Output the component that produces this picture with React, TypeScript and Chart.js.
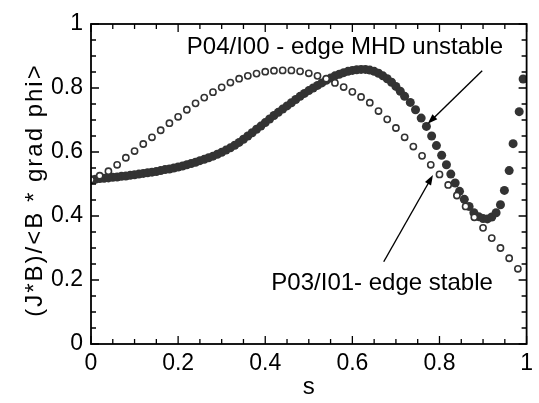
import React, { useEffect, useRef } from "react";
import { Chart, registerables } from "chart.js";

Chart.register(...registerables);

// ---------- data ----------
const xTickLabels = ["0", "0.2", "0.4", "0.6", "0.8", "1"];
const yTickLabels = ["0", "0.2", "0.4", "0.6", "0.8", "1"];
const xTitle = "s";
const yTitle = "(J*B)/<B * grad phi>";
const labelUnstable = "P04/I00 - edge MHD unstable";
const labelStable = "P03/I01- edge stable";

// P03/I01 - edge stable (open circles)
const openS = [
  0.0, 0.02, 0.04, 0.06, 0.08, 0.1, 0.12, 0.14, 0.16, 0.18,
  0.2, 0.22, 0.24, 0.26, 0.28, 0.3, 0.32, 0.34, 0.36, 0.38,
  0.4, 0.42, 0.44, 0.46, 0.48, 0.5, 0.52, 0.54, 0.56, 0.58,
  0.6, 0.62, 0.64, 0.66, 0.68, 0.7, 0.72, 0.74, 0.76, 0.78,
  0.8, 0.82, 0.84, 0.86, 0.88, 0.9, 0.92, 0.94, 0.96, 0.98,
];
const openJB = [
  0.513, 0.526, 0.54, 0.56, 0.582, 0.603, 0.625, 0.646, 0.668, 0.69,
  0.71, 0.732, 0.752, 0.77, 0.787, 0.802, 0.817, 0.829, 0.838, 0.845,
  0.851, 0.854, 0.855, 0.855, 0.852, 0.846, 0.838, 0.829, 0.816, 0.803,
  0.788, 0.772, 0.754, 0.728, 0.702, 0.675, 0.646, 0.617, 0.588, 0.56,
  0.53, 0.497, 0.464, 0.43, 0.396, 0.363, 0.331, 0.3, 0.268, 0.235,
];

// P04/I00 - edge MHD unstable (filled circles)
const filledS = [
  0.0, 0.01, 0.02, 0.03, 0.04, 0.05, 0.06, 0.07, 0.08, 0.09,
  0.1, 0.11, 0.12, 0.13, 0.14, 0.15, 0.16, 0.17, 0.18, 0.19,
  0.2, 0.21, 0.22, 0.23, 0.24, 0.25, 0.26, 0.27, 0.28, 0.29,
  0.3, 0.31, 0.32, 0.33, 0.34, 0.35, 0.36, 0.37, 0.38, 0.39,
  0.4, 0.41, 0.42, 0.43, 0.44, 0.45, 0.46, 0.47, 0.48, 0.49,
  0.5, 0.51, 0.52, 0.53, 0.54, 0.55, 0.56, 0.57, 0.58, 0.59,
  0.6, 0.61, 0.62, 0.63, 0.64, 0.65, 0.66, 0.67, 0.68, 0.69,
  0.7, 0.71, 0.72, 0.733, 0.745, 0.758, 0.77, 0.782, 0.793, 0.805,
  0.816, 0.826, 0.836, 0.846, 0.857, 0.868, 0.879, 0.89, 0.9, 0.91,
  0.92, 0.93, 0.94, 0.949, 0.96, 0.969, 0.983, 0.992,
];
const filledJB = [
  0.513, 0.515, 0.517, 0.518, 0.519, 0.521, 0.522, 0.524, 0.525, 0.527,
  0.529, 0.531, 0.533, 0.535, 0.537, 0.539, 0.542, 0.545, 0.547, 0.55,
  0.553, 0.556, 0.56, 0.564, 0.568, 0.573, 0.577, 0.582, 0.587, 0.593,
  0.599, 0.606, 0.613, 0.621, 0.63, 0.64, 0.65, 0.66, 0.671, 0.681,
  0.692, 0.703, 0.714, 0.724, 0.734, 0.744, 0.754, 0.764, 0.774, 0.783,
  0.792, 0.8, 0.808, 0.816, 0.824, 0.831, 0.838, 0.843, 0.848, 0.852,
  0.855, 0.857, 0.858, 0.858, 0.856, 0.852, 0.846, 0.838, 0.829, 0.818,
  0.805, 0.79, 0.774, 0.755, 0.732, 0.706, 0.68, 0.65, 0.62, 0.59,
  0.56, 0.531, 0.503, 0.477, 0.452, 0.43, 0.41, 0.398, 0.392, 0.391,
  0.397, 0.41, 0.435, 0.48, 0.542, 0.626, 0.726, 0.828,
];

// annotation anchors in data units
const unstableText = { s: 0.22, v: 0.926 };
const stableText = { s: 0.414, v: 0.19 };
const unstableArrow = { from: [0.898, 0.854], to: [0.773, 0.688] };
const stableArrow = { from: [0.672, 0.257], to: [0.785, 0.528] };

const FONT = "'Liberation Sans', Arial, Helvetica, sans-serif";
const INK = "#333333";

function drawArrow(ctx: CanvasRenderingContext2D, x1: number, y1: number, x2: number, y2: number) {
  const ang = Math.atan2(y2 - y1, x2 - x1);
  const len = 10;
  const half = 3.5;
  ctx.beginPath();
  ctx.moveTo(x1, y1);
  ctx.lineTo(x2 - Math.cos(ang) * len * 0.8, y2 - Math.sin(ang) * len * 0.8);
  ctx.stroke();
  ctx.beginPath();
  ctx.moveTo(x2, y2);
  ctx.lineTo(x2 - Math.cos(ang) * len - Math.sin(ang) * half, y2 - Math.sin(ang) * len + Math.cos(ang) * half);
  ctx.lineTo(x2 - Math.cos(ang) * len + Math.sin(ang) * half, y2 - Math.sin(ang) * len - Math.cos(ang) * half);
  ctx.closePath();
  ctx.fill();
}

const framePlugin = {
  id: "frameAndNotes",
  afterDraw(chart: any) {
    const { ctx, chartArea } = chart;
    const { left, right, top, bottom } = chartArea;
    const x = chart.scales.x;
    const y = chart.scales.y;
    ctx.save();
    ctx.strokeStyle = "#000";
    ctx.fillStyle = "#000";
    ctx.lineWidth = 1.8;
    ctx.strokeRect(left, top, right - left, bottom - top);

    // inward ticks on all four sides
    ctx.lineWidth = 1.3;
    const minorStep = 0.05;
    for (let i = 0; i <= 20; i++) {
      const v = i * minorStep;
      const major = i % 4 === 0;
      const len = major ? 8 : 5;
      const px = x.getPixelForValue(v);
      const py = y.getPixelForValue(v);
      ctx.beginPath();
      ctx.moveTo(px, bottom);
      ctx.lineTo(px, bottom - len);
      ctx.moveTo(px, top);
      ctx.lineTo(px, top + len);
      ctx.moveTo(left, py);
      ctx.lineTo(left + len, py);
      ctx.moveTo(right, py);
      ctx.lineTo(right - len, py);
      ctx.stroke();
    }

    // annotations
    ctx.font = `24px ${FONT}`;
    ctx.textBaseline = "middle";
    ctx.textAlign = "left";
    ctx.fillText(labelUnstable, x.getPixelForValue(unstableText.s), y.getPixelForValue(unstableText.v));
    ctx.fillText(labelStable, x.getPixelForValue(stableText.s), y.getPixelForValue(stableText.v));

    ctx.lineWidth = 1.4;
    for (const a of [unstableArrow, stableArrow]) {
      drawArrow(
        ctx,
        x.getPixelForValue(a.from[0]),
        y.getPixelForValue(a.from[1]),
        x.getPixelForValue(a.to[0]),
        y.getPixelForValue(a.to[1])
      );
    }

    // y axis title
    ctx.translate(35, (top + bottom) / 2 + 6);
    ctx.rotate(-Math.PI / 2);
    ctx.textAlign = "center";
    ctx.font = `24px ${FONT}`;
    try {
      (ctx as any).letterSpacing = "2px";
    } catch (e) {}
    ctx.fillText(yTitle, 0, 0);
    ctx.restore();
  },
};

export default function App() {
  const ref = useRef<HTMLCanvasElement | null>(null);
  useEffect(() => {
    if (!ref.current) return;
    const chart = new Chart(ref.current, {
      type: "scatter",
      data: {
        datasets: [
          {
            label: labelStable,
            data: openS.map((s, i) => ({ x: s, y: openJB[i] })),
            pointRadius: 3.1,
            pointBorderWidth: 1.6,
            pointBorderColor: INK,
            pointBackgroundColor: "#ffffff",
            showLine: false,
          },
          {
            label: labelUnstable,
            data: filledS.map((s, i) => ({ x: s, y: filledJB[i] })),
            pointRadius: 4.5,
            pointBorderWidth: 0,
            pointBorderColor: INK,
            pointBackgroundColor: INK,
            showLine: false,
          },
        ],
      },
      options: {
        responsive: false,
        animation: false,
        devicePixelRatio: 1,
        layout: { padding: { left: 0, right: 8, top: 24, bottom: 0 } },
        plugins: { legend: { display: false }, tooltip: { enabled: false } },
        scales: {
          x: {
            type: "linear",
            position: "bottom",
            min: 0,
            max: 1,
            afterFit: (s: any) => {
              s.height = 59;
            },
            grid: { display: false, drawTicks: false },
            border: { display: false },
            ticks: {
              stepSize: 0.2,
              autoSkip: false,
              maxRotation: 0,
              padding: 6,
              color: "#000",
              font: { family: FONT, size: 23 },
              callback: (_v: any, i: number) => xTickLabels[i],
            },
            title: {
              display: true,
              text: xTitle,
              color: "#000",
              font: { family: FONT, size: 24 },
              padding: { top: 0, bottom: 1 },
            },
          },
          y: {
            type: "linear",
            min: 0,
            max: 1,
            afterFit: (s: any) => {
              s.width = 91;
            },
            grid: { display: false, drawTicks: false },
            border: { display: false },
            ticks: {
              stepSize: 0.2,
              autoSkip: false,
              padding: 8,
              color: "#000",
              font: { family: FONT, size: 23 },
              callback: (_v: any, i: number) => yTickLabels[i],
            },
          },
        },
      },
      plugins: [framePlugin],
    });
    return () => chart.destroy();
  }, []);
  return (
    <div style={{ position: "absolute", left: 0, top: 0, width: 539, height: 403, background: "#fff" }}>
      <canvas ref={ref} width={539} height={403} />
    </div>
  );
}
